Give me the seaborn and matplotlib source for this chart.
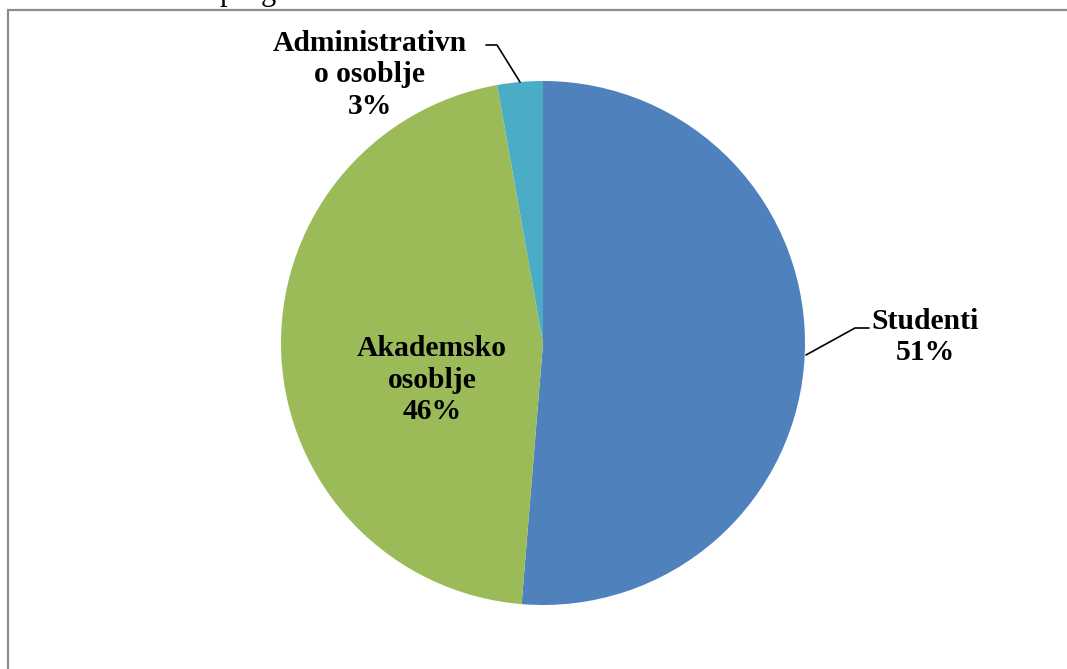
import matplotlib.pyplot as plt
import seaborn as sns

# shares of respondents (percent)
categories = ['Studenti', 'Akademsko\nosoblje', 'Administrativn\no osoblje']
shares = [51.3, 45.9, 2.8]
pct_labels = ['51%', '46%', '3%']
colors = ['#4F81BD', '#9BBB59', '#4BACC6']

sns.set_theme(style='white')
plt.rcParams['font.family'] = ['Liberation Serif', 'DejaVu Serif']

fig = plt.figure(figsize=(10.67, 6.69), dpi=100)
ax = fig.add_axes([0, 0, 1, 1])

# pie centred where the original sits, in pixel units
cx, cy, r = 543, 326, 262
wedges, _ = ax.pie(shares, colors=colors, startangle=90, counterclock=False,
                   center=(cx, cy), radius=r, frame=True,
                   wedgeprops=dict(linewidth=0))
ax.set_xlim(0, 1067)
ax.set_ylim(0, 669)
ax.set_axis_off()

txt = dict(fontsize=21.3, fontweight='bold', ha='center', va='center',
           color='black', linespacing=1.22)

# Studenti - outside right with leader line
ax.text(925, 332, categories[0] + '\n' + pct_labels[0], **txt)
ax.plot([806, 855, 869], [669 - 355, 669 - 328, 669 - 328], color='black', lw=1.2)

# Akademsko osoblje - inside
ax.text(432, 289, categories[1] + '\n' + pct_labels[1], **txt)

# Administrativno osoblje - outside top left with leader line
ax.text(370, 594, categories[2] + '\n' + pct_labels[2], **txt)
ax.plot([486, 497, 520], [669 - 45, 669 - 45, 669 - 82], color='black', lw=1.2)

# chart frame (partially visible)
ax.plot([7.5, 7.5, 1067], [0, 669 - 10, 669 - 10], color='#8c8c8c', lw=1.6,
        solid_joinstyle='miter')

# clipped fragment of document text above the chart
ax.text(227, 669, 'p', fontsize=22, ha='center', va='baseline', color='black')
ax.text(268, 669, 'g', fontsize=22, ha='center', va='baseline', color='black')

fig.savefig('out.png', dpi=100)
